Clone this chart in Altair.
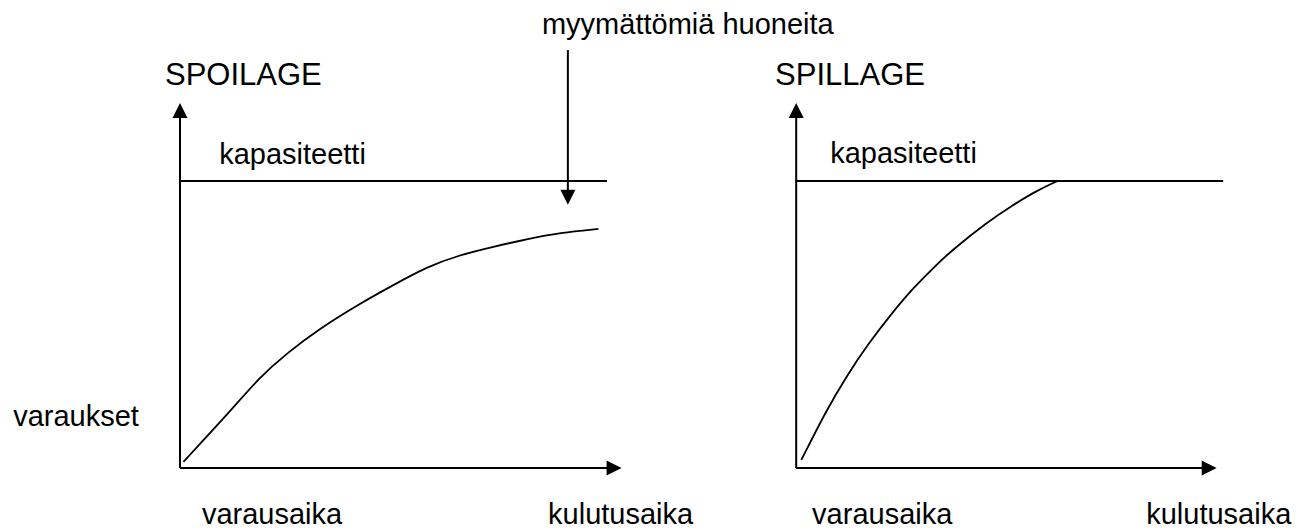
import altair as alt
import pandas as pd

# ---------------- data (diagram units: time → right, bookings → up) ----------------
spoilage_time = [0.08, 1.09, 1.86, 2.48, 3.26, 4.19, 4.96, 5.74, 6.51, 7.29, 8.06, 8.84, 9.73]
spoilage_bookings = [0.17, 1.45, 2.50, 3.14, 3.83, 4.51, 5.01, 5.51, 5.84, 6.06, 6.27, 6.45, 6.55]
spillage_time = [0.12, 0.70, 1.19, 1.65, 2.21, 2.72, 3.26, 3.65, 4.42, 5.05, 5.58, 6.07]
spillage_bookings = [0.22, 1.58, 2.55, 3.36, 4.22, 4.93, 5.57, 5.99, 6.72, 7.21, 7.59, 7.86]

panel_titles = ["SPOILAGE", "SPILLAGE"]
panel_offset = [0.0, 14.33]      # horizontal origin of each panel
time_axis_end = [10.28, 9.79]     # length of the horizontal axis arrow
bookings_axis_end = 10.0          # height of the vertical axis arrow
capacity = 7.86
capacity_end = [9.93, 9.93]

annotation_text = "myymättömiä huoneita"
annotation_time = 9.02
annotation_from = 11.45
annotation_to = 7.21

capacity_label = "kapasiteetti"
y_label = "varaukset"
x_label_left = "varausaika"
x_label_right = "kulutusaika"

# ---------------- layout constants ----------------
PX_X, PX_Y = 43.0, 36.5
W, H = 1291, 522
X0, Y0 = 172.0, 460.0
x_domain = [-X0 / PX_X, (W - X0) / PX_X]
y_domain = [-(H - Y0) / PX_Y, Y0 / PX_Y]
head_x = 8.0 / PX_X
head_y = 7.5 / PX_Y
FONT = "Liberation Sans"

# ---------------- build tables ----------------
curve_rows = []
for t, b in zip(spoilage_time, spoilage_bookings):
    curve_rows.append({"panel": "spoilage", "x": panel_offset[0] + t, "y": b})
for t, b in zip(spillage_time, spillage_bookings):
    curve_rows.append({"panel": "spillage", "x": panel_offset[1] + t, "y": b})
curves = pd.DataFrame(curve_rows)

seg_rows = []
head_rows = []
for i in range(2):
    o = panel_offset[i]
    # vertical axis
    seg_rows.append({"x": o, "y": 0, "x2": o, "y2": bookings_axis_end - head_y})
    head_rows.append({"x": o, "y": bookings_axis_end - head_y, "dir": "up"})
    # horizontal axis
    seg_rows.append({"x": o, "y": 0, "x2": o + time_axis_end[i] - head_x, "y2": 0})
    head_rows.append({"x": o + time_axis_end[i] - head_x, "y": 0, "dir": "right"})
    # capacity line
    seg_rows.append({"x": o, "y": capacity, "x2": o + capacity_end[i], "y2": capacity})
# annotation arrow
seg_rows.append({"x": annotation_time, "y": annotation_from, "x2": annotation_time,
                 "y2": annotation_to + head_y})
head_rows.append({"x": annotation_time, "y": annotation_to + head_y, "dir": "down"})
segs = pd.DataFrame(seg_rows)
heads = pd.DataFrame(head_rows)

text_rows = [
    {"x": panel_offset[0] - 0.35, "y": 10.49, "label": panel_titles[0], "fs": 31},
    {"x": panel_offset[1] - 0.49, "y": 10.49, "label": panel_titles[1], "fs": 31},
    {"x": panel_offset[0] + 0.91, "y": 8.33, "label": capacity_label, "fs": 29},
    {"x": panel_offset[1] + 0.79, "y": 8.36, "label": capacity_label, "fs": 29},
    {"x": panel_offset[0] - 3.88, "y": 1.15, "label": y_label, "fs": 29},
    {"x": panel_offset[0] + 0.51, "y": -1.53, "label": x_label_left, "fs": 29},
    {"x": panel_offset[1] + 0.37, "y": -1.53, "label": x_label_left, "fs": 29},
    {"x": panel_offset[0] + 8.56, "y": -1.53, "label": x_label_right, "fs": 29},
    {"x": panel_offset[1] + 8.14, "y": -1.53, "label": x_label_right, "fs": 29},
]
texts = pd.DataFrame(text_rows)
ann = pd.DataFrame([{"x": 11.81, "y": 11.89, "label": annotation_text}])

xs = alt.Scale(domain=x_domain, nice=False, zero=False)
ys = alt.Scale(domain=y_domain, nice=False, zero=False)
X = lambda f: alt.X(f, type="quantitative", scale=xs, axis=None)
Y = lambda f: alt.Y(f, type="quantitative", scale=ys, axis=None)

rules = alt.Chart(segs).mark_rule(color="black", strokeWidth=2).encode(
    x=X("x"), y=Y("y"), x2="x2", y2="y2"
)
arrowheads = alt.Chart(heads).mark_point(filled=True, color="black", opacity=1, size=225).encode(
    x=X("x"), y=Y("y"),
    shape=alt.Shape("dir:N", legend=None, scale=alt.Scale(
        domain=["up", "right", "down"],
        range=["M0,-1L1,1L-1,1Z", "M1,0L-1,-1L-1,1Z", "M0,1L1,-1L-1,-1Z"])),
)
lines = alt.Chart(curves).mark_line(color="black", strokeWidth=1.8, interpolate="basis").encode(
    x=X("x"), y=Y("y"), detail="panel:N"
)
labels = alt.Chart(texts).mark_text(align="left", baseline="alphabetic", font=FONT,
                                    color="black").encode(
    x=X("x"), y=Y("y"), text="label:N", size=alt.Size("fs:Q", scale=None)
)
ann_label = alt.Chart(ann).mark_text(align="center", baseline="alphabetic", font=FONT,
                                     fontSize=29, color="black").encode(
    x=X("x"), y=Y("y"), text="label:N"
)

chart = alt.layer(rules, lines, arrowheads, labels, ann_label).properties(
    width=W, height=H, padding=0, background="white",
    autosize=alt.AutoSizeParams(type="none"),
).configure_view(stroke=None)

chart.save("out.html", embed_options={"renderer": "svg", "actions": False})
